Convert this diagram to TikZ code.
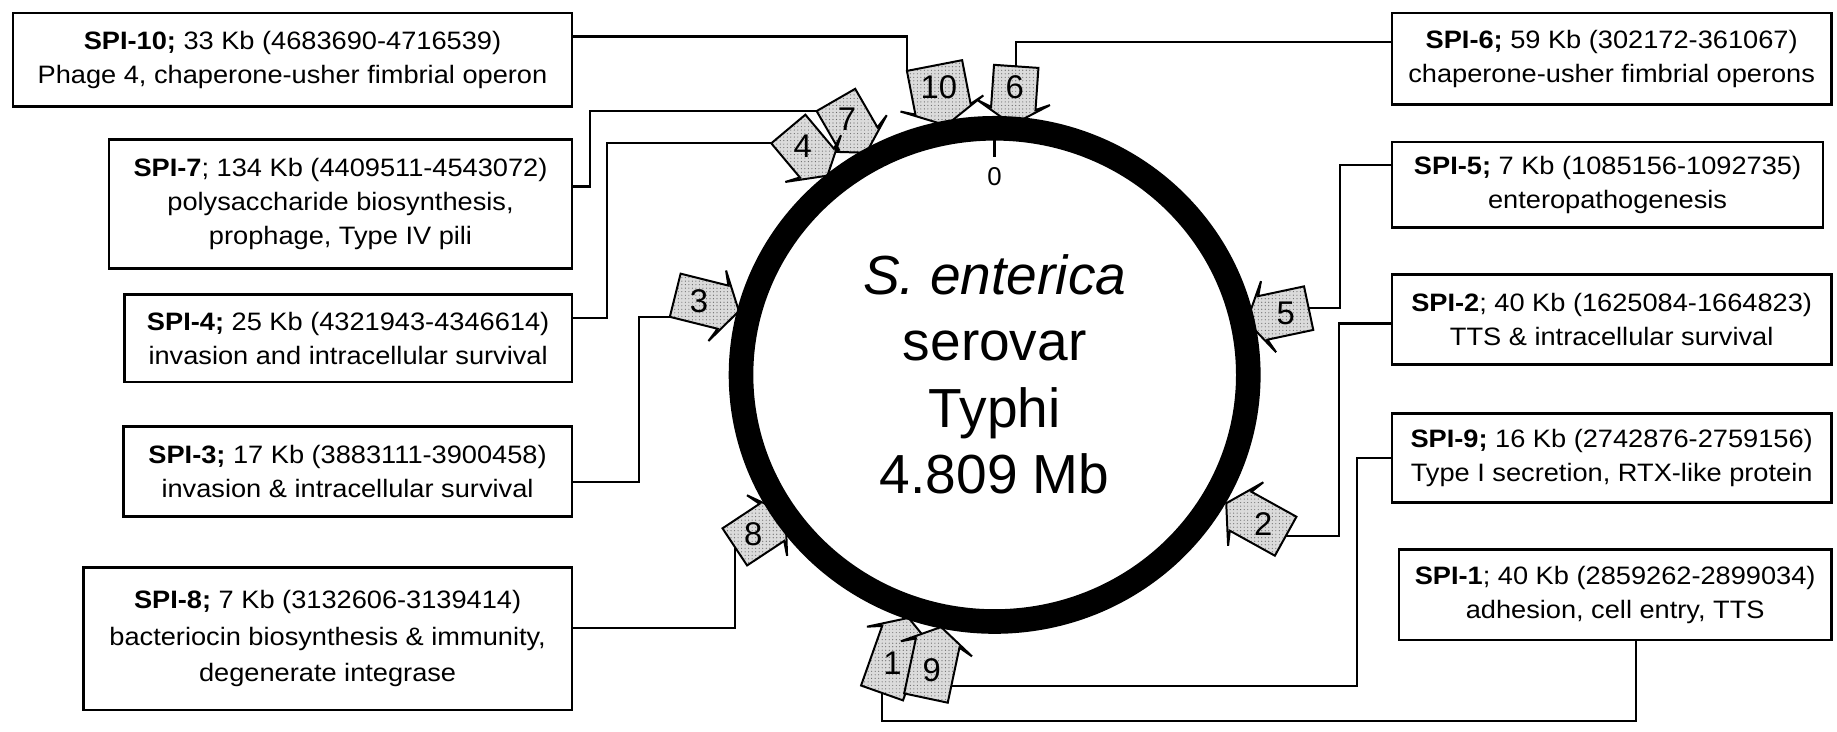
\documentclass[tikz,border=0pt]{standalone}
\usepackage{fontspec}
\setmainfont{Liberation Sans}
\newfontfamily\boxfamily{Liberation Sans}[FakeStretch=1.08]
\usetikzlibrary{calc,patterns}
\def\hh{14}\def\he{12}\def\hs{5}
\tikzset{
  spibox/.style={draw, line width=2.3pt, inner sep=0pt, align=center, anchor=north west,
    font=\boxfamily\fontsize{21.5}{29}\selectfont},
  conn/.style={line width=1.9pt},
  islarrow/.style={draw, line width=1.7pt, line join=miter, preaction={fill=black!14},
    pattern=dots, pattern color=black!60},
  arrlabel/.style={font=\fontsize{28}{28}\selectfont, inner sep=0pt},
  centertext/.style={font=\fontsize{47}{47}\selectfont, anchor=base, inner sep=0pt},
}
% #1 name, #2 angle, #3 tip radius, #4 half width, #5 body length, #6 label
\newcommand{\islandarrow}[6]{%
  \coordinate (#1t) at ($(C)+(#2:#3pt)$);
  \begin{scope}[shift={(#1t)}, rotate=#2+180, y=1pt]
    \draw[islarrow] (0,0) -- (-\hh-\hs,#4+\he) -- (-\hh,#4) -- (-\hh-#5,#4)
      -- (-\hh-#5,-#4) -- (-\hh,-#4) -- (-\hh-\hs,-#4-\he) -- cycle;
    \coordinate (#1b) at (-\hh-#5,0);
    \coordinate (#1p) at (-\hh-#5,#4);
    \coordinate (#1m) at (-\hh-#5,-#4);
    \coordinate (#1s) at (-\hh-0.7*#5,-#4);
    \node[arrlabel] (#1) at (-\hh-0.5*#5,0) {#6};
  \end{scope}}
\begin{document}
\begin{tikzpicture}[x=1pt,y=-1pt]
\useasboundingbox (0,0) rectangle (1568,624);
\fill[white] (0,0) rectangle (1568,624);
\coordinate (C) at (849,320);

% boxes, left
\node[spibox, minimum width=477pt, minimum height=80pt] (spi10) at (10,10)
  {\textbf{SPI-10;} 33 Kb (4683690-4716539)\\Phage 4, chaperone-usher fimbrial operon};
\node[spibox, minimum width=395pt, minimum height=110pt] (spi7) at (92,118)
  {\textbf{SPI-7}; 134 Kb (4409511-4543072)\\polysaccharide biosynthesis,\\prophage, Type IV pili};
\node[spibox, minimum width=382pt, minimum height=75pt] (spi4) at (105,250)
  {\textbf{SPI-4;} 25 Kb (4321943-4346614)\\invasion and intracellular survival};
\node[spibox, minimum width=383pt, minimum height=77pt] (spi3) at (104,363)
  {\textbf{SPI-3;} 17 Kb (3883111-3900458)\\invasion \& intracellular survival};
\node[spibox, minimum width=417pt, minimum height=122pt,
  font=\boxfamily\fontsize{21.5}{31}\selectfont] (spi8) at (70,483)
  {\textbf{SPI-8;} 7 Kb (3132606-3139414)\\bacteriocin biosynthesis \& immunity,\\degenerate integrase};
% boxes, right
\node[spibox, minimum width=375pt, minimum height=78pt] (spi6) at (1187,10)
  {\textbf{SPI-6;} 59 Kb (302172-361067)\\chaperone-usher fimbrial operons};
\node[spibox, minimum width=368pt, minimum height=73pt] (spi5) at (1187,120)
  {\textbf{SPI-5;} 7 Kb (1085156-1092735)\\enteropathogenesis};
\node[spibox, minimum width=375pt, minimum height=77pt] (spi2) at (1187,233)
  {\textbf{SPI-2}; 40 Kb (1625084-1664823)\\TTS \& intracellular survival};
\node[spibox, minimum width=375pt, minimum height=76pt] (spi9) at (1187,352)
  {\textbf{SPI-9;} 16 Kb (2742876-2759156)\\Type I secretion, RTX-like protein};
\node[spibox, minimum width=369pt, minimum height=77pt] (spi1) at (1193,468)
  {\textbf{SPI-1}; 40 Kb (2859262-2899034)\\adhesion, cell entry, TTS};

% island arrows
\islandarrow{a6}{86}{214}{19}{36}{6}
\islandarrow{a10}{101}{217}{24}{38}{10}
\islandarrow{a7}{120}{219}{19}{38}{7}
\islandarrow{a4}{130}{222}{19}{38}{4}
\islandarrow{a3}{166}{225}{19}{42}{3}
\islandarrow{a8}{213.5}{214}{19}{38}{8}
\islandarrow{a1}{250.5}{220}{19}{54}{1}
\islandarrow{a9}{258}{220}{19}{48}{9}
\islandarrow{a2}{-29}{226}{19}{44}{2}
\islandarrow{a5}{12}{220}{19}{40}{5}

% connectors
\draw[conn] ([yshift=20pt]spi10.east) -| (a10m);
\draw[conn] ([yshift=14pt]spi6.west) -| (a6b);
\draw[conn] ([yshift=15pt]spi7.east) -- ++(14,0) |- (a7m);
\draw[conn] ([yshift=17.5pt]spi4.east) -- ++(29,0) |- (a4m);
\draw[conn] ([yshift=-8.5pt]spi3.east) -- ++(56,0) |- (a3m);
\draw[conn] ([yshift=9pt]spi8.east) -| (a8b);
\draw[conn] ([xshift=17.5pt]spi1.south) -- ++(0,68) -| (a1b);
\draw[conn] (spi9.west) -- ++(-29,0) |- (a9s);
\draw[conn] ([yshift=-3.5pt]spi2.west) -- ++(-44,0) |- (a2b);
\draw[conn] ([yshift=16.5pt]spi5.west) -- ++(-43,0) |- (a5b);

% chromosome ring
\draw[line width=21pt] (C) ellipse [x radius=216.5pt, y radius=210.5pt];
\coordinate (ringtop) at (849,110);
\coordinate (ticktip) at (849,134);
\draw[line width=2pt] (ringtop) -- (ticktip);
\node[font=\fontsize{22}{22}\selectfont, inner sep=0pt] (zero) at (849,151) {0};

\node[centertext] (t1) at (849,251) {\textit{S. enterica}};
\node[centertext] (t2) at (849,308) {serovar};
\node[centertext] (t3) at (849,364.5) {Typhi};
\node[centertext] (t4) at (849,421) {4.809 Mb};
\end{tikzpicture}
\end{document}
